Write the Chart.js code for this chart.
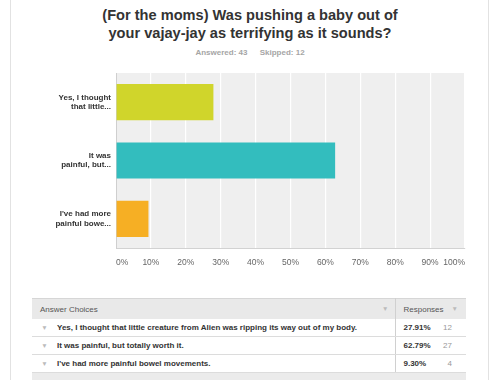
<!DOCTYPE html>
<html>
<head>
<meta charset="utf-8">
<script src="https://cdn.jsdelivr.net/npm/chart.js@4"></script>
<style>
  html, body { margin: 0; padding: 0; background: #fff; }
  body { width: 500px; height: 380px; position: relative; overflow: hidden; font-family: "Liberation Sans", Arial, Helvetica, sans-serif; }
  .card { position: absolute; left: 10px; top: -2px; width: 477px; height: 390px; border-left: 1px solid #e2e2e2; border-right: 1px solid #e2e2e2; }
  #title { position: absolute; left: 0; width: 500px; top: 6px; text-align: center; font-weight: bold; font-size: 14.6px; line-height: 18px; color: #333; }
  #stats { position: absolute; left: 0; width: 500px; top: 48px; text-align: center; font-weight: bold; font-size: 8px; color: #a5a5a5; }
  #stats span { margin: 0 5px; }
  #chartBox { position: absolute; left: 0; top: 0; width: 500px; height: 290px; }
  table { position: absolute; left: 32px; top: 298px; width: 434px; border-collapse: collapse; table-layout: fixed; font-size: 8px; color: #333; border-top: 1px solid #d6d6d6; }
  th { background: #e9e9e9; font-weight: normal; color: #555; text-align: left; height: 20px; padding: 0 0 0 8px; }
  td { height: 17px; border-bottom: 1px solid #dcdcdc; padding: 0; font-weight: bold; }
  td.tri, th .tri { color: #bbb; font-weight: normal; font-size: 6.5px; }
  td.tri { text-align: center; }
  .div { border-left: 1px solid #d0d0d0; }
  td.pct { padding-left: 8px; }
  td.num { font-weight: normal; color: #999; text-align: right; padding-right: 14px; }
  tr.foot td { background: #ebebeb; height: 10px; border: none; }
</style>
</head>
<body>
<div class="card"></div>
<div id="title">(For the moms) Was pushing a baby out of<br>your vajay-jay as terrifying as it sounds?</div>
<div id="stats"><span>Answered: 43</span> <span>Skipped: 12</span></div>
<div id="chartBox"><canvas id="surveyChart"></canvas></div>
<table id="answers"></table>
<script>
const shortLabels = [
    ["Yes, I thought", "that little..."],
    ["It was", "painful, but..."],
    ["I've had more", "painful bowe..."]
];
const answerChoices = [
    "Yes, I thought that little creature from Alien was ripping its way out of my body.",
    "It was painful, but totally worth it.",
    "I've had more painful bowel movements."
];
const percentValues = [27.91, 62.79, 9.30];
const responseCounts = [12, 27, 4];
const barColors = ["#d0d52b", "#33bdbe", "#f6af24"];

const plotBackground = {
    id: "plotBackground",
    beforeDraw(chart) {
        const { ctx, chartArea } = chart;
        ctx.save();
        ctx.fillStyle = "#efefef";
        ctx.fillRect(chartArea.left, chartArea.top, chartArea.right - chartArea.left, chartArea.bottom - chartArea.top);
        ctx.restore();
    }
};

new Chart(document.getElementById("surveyChart"), {
    type: "bar",
    data: {
        labels: shortLabels,
        datasets: [{
            data: percentValues,
            backgroundColor: barColors,
            categoryPercentage: 1,
            barPercentage: 0.62
        }]
    },
    options: {
        indexAxis: "y",
        responsive: true,
        maintainAspectRatio: false,
        animation: false,
        layout: { padding: { top: 73, right: 35, left: 0, bottom: 0 } },
        plugins: { legend: { display: false }, tooltip: { enabled: false } },
        scales: {
            x: {
                min: 0,
                max: 100,
                grid: { color: "#ffffff", lineWidth: 1.2, drawTicks: false },
                border: { display: true, color: "#d2d2d2" },
                ticks: {
                    stepSize: 10,
                    autoSkip: false,
                    maxRotation: 0,
                    align: "inner",
                    padding: 10,
                    color: "#666",
                    font: { family: "Liberation Sans", size: 8.5 },
                    callback: v => v + "%"
                },
                afterFit: scale => { scale.height = 42; }
            },
            y: {
                grid: { display: false, drawTicks: false },
                border: { display: true, color: "#cfcfcf" },
                ticks: {
                    padding: 5,
                    color: "#333",
                    font: { family: "Liberation Sans", size: 8, weight: "bold", lineHeight: 1.15 }
                },
                afterFit: scale => { scale.width = 116; }
            }
        }
    },
    plugins: [plotBackground]
});

// answer table underneath the chart
const table = document.getElementById("answers");
let html = '<colgroup><col style="width:25px"><col style="width:338px"><col style="width:48px"><col></colgroup>' +
    '<tr><th colspan="2">Answer Choices<span class="tri" style="float:right;margin-right:6px">&#9660;</span></th>' +
    '<th class="div" colspan="2">Responses<span class="tri" style="float:right;margin-right:8px">&#9660;</span></th></tr>';
answerChoices.forEach((a, i) => {
    html += '<tr><td class="tri">&#9660;</td><td>' + a + '</td>' +
        '<td class="div pct">' + percentValues[i].toFixed(2) + '%</td>' +
        '<td class="num">' + responseCounts[i] + '</td></tr>';
});
html += '<tr class="foot"><td colspan="4"></td></tr>';
table.innerHTML = html;
</script>
</body>
</html>
